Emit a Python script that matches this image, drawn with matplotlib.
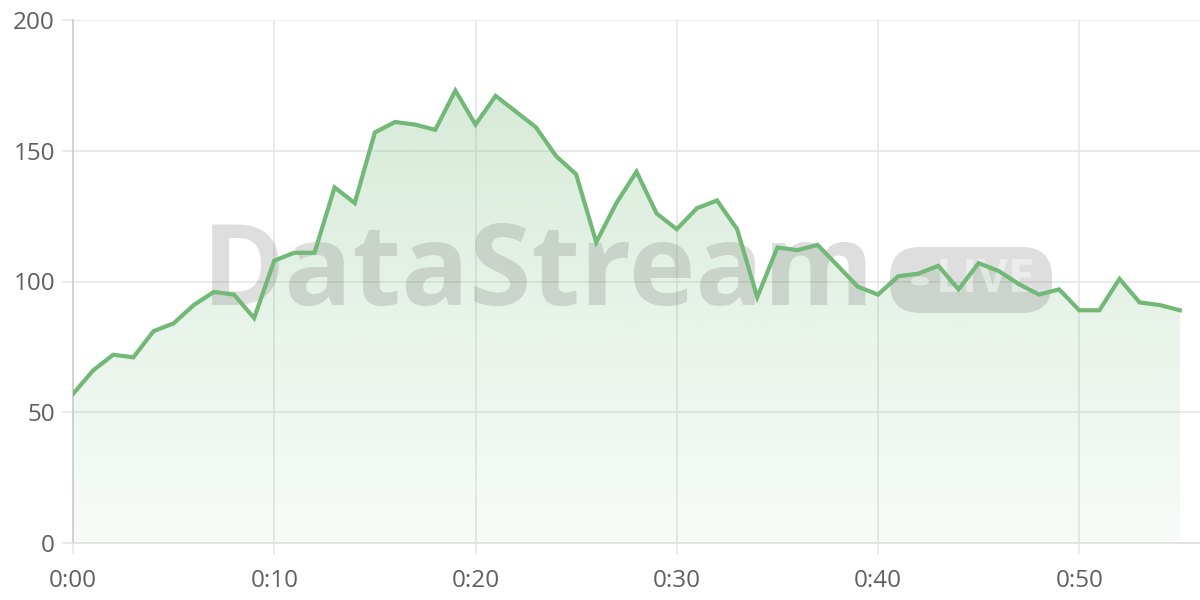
import matplotlib
matplotlib.use("Agg")
import matplotlib.pyplot as plt
import numpy as np
from matplotlib.patches import FancyBboxPatch, Circle
from matplotlib.colors import to_rgb

minutes = list(range(56))
values = [57, 66, 72, 71, 81, 84, 91, 96, 95, 86,
          108, 111, 111, 136, 130, 157, 161, 160, 158, 173,
          160, 171, 165, 159, 148, 141, 115, 130, 142, 126,
          120, 128, 131, 120, 94, 113, 112, 114, 106, 98,
          95, 102, 103, 106, 97, 107, 104, 99, 95, 97,
          89, 89, 101, 92, 91, 89]
x_ticks = [0, 10, 20, 30, 40, 50]
x_tick_labels = ["0:00", "0:10", "0:20", "0:30", "0:40", "0:50"]
y_ticks = [0, 50, 100, 150, 200]

line_color = "#72b877"
grid_color = "#e6e6e6"
text_color = "#606060"

plt.rcParams['font.family'] = ['Open Sans', 'DejaVu Sans']

fig = plt.figure(figsize=(12, 6), dpi=100)
ax = fig.add_axes([73/1200, 1 - 543/600, 1 - 73/1200, (543 - 20)/600])
ax.set_xlim(0, 56)
ax.set_ylim(0, 200)

# gradient fill
poly = ax.fill_between(minutes, values, 0, color="none", lw=0)
r, g, b = to_rgb(line_color)
grad = np.zeros((256, 1, 4))
grad[:, 0, 0] = r
grad[:, 0, 1] = g
grad[:, 0, 2] = b
grad[:, 0, 3] = np.linspace(0.05, 0.32, 256)
im = ax.imshow(grad, extent=[0, 56, 0, 200], origin="lower", aspect="auto", zorder=1)
path = poly.get_paths()[0]
im.set_clip_path(path, transform=ax.transData)

ax.plot(minutes, values, color=line_color, lw=3, zorder=5, solid_joinstyle="miter")

ax.set_xticks(x_ticks)
ax.set_xticklabels(x_tick_labels)
ax.set_yticks(y_ticks)
ax.grid(True, color=grid_color, lw=1.2, zorder=0)
ax.set_axisbelow(True)
for s in ["top", "right"]:
    ax.spines[s].set_visible(False)
ax.spines["left"].set_color("#cccccc")
ax.spines["bottom"].set_color("#e0e0e0")
ax.spines["left"].set_linewidth(1.2)
ax.spines["bottom"].set_linewidth(1.2)
ax.tick_params(axis="both", colors=grid_color, length=8, width=1.2, labelcolor=text_color, labelsize=17.5)
ax.tick_params(axis="y", pad=5)
ax.tick_params(axis="x", pad=10.5)

# watermark (between fill and line)
wm_alpha = 0.26
ft = fig.transFigure
ax.text(538/1200, 1 - 276/600, "DataStream", fontsize=81, fontweight="bold",
        family="Open Sans", color="#808080", alpha=wm_alpha, ha="center", va="center",
        zorder=3, transform=ft, clip_on=False)
pill = FancyBboxPatch((890/1200, 1 - 313/600), (1052 - 890)/1200, (313 - 247)/600,
                      boxstyle="round,pad=0,rounding_size=0.025", transform=ft,
                      facecolor="#808080", edgecolor="none", alpha=wm_alpha, zorder=3,
                      mutation_aspect=2.0, clip_on=False)
ax.add_artist(pill)
ax.add_artist(Circle((920/1200, 1 - 281/600), 9/1200, transform=ft,
                     facecolor="white", alpha=0.45, edgecolor="none", zorder=4, clip_on=False))
ax.text(985/1200, 1 - 280/600, "LIVE", fontsize=34, family="Open Sans", fontweight="bold",
        color="white", alpha=0.45, ha="center", va="center", zorder=4, transform=ft, clip_on=False)

fig.savefig("out.png", dpi=100)
